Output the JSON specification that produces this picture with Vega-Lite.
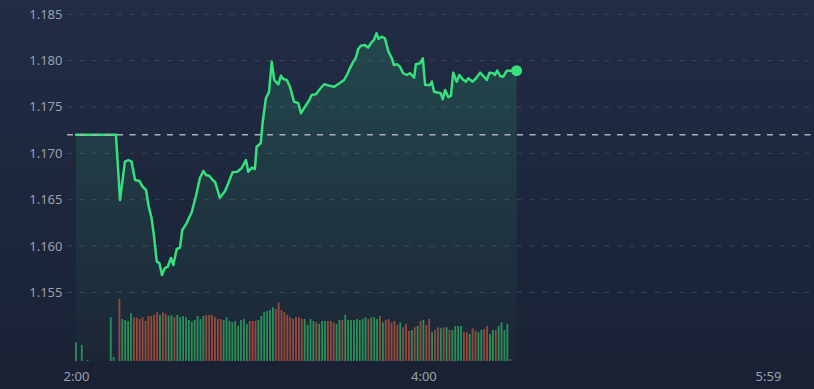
{
  "$schema": "https://vega.github.io/schema/vega-lite/v6.json",
  "width": 814,
  "height": 389,
  "autosize": {"type": "none"},
  "padding": 0,
  "background": "#1a2133",
  "config": {
    "view": {
      "stroke": null,
      "fill": {
        "gradient": "linear",
        "x1": 0, "y1": 0, "x2": 0, "y2": 1,
        "stops": [
          {"offset": 0, "color": "#212c46"},
          {"offset": 1, "color": "#1a2133"}
        ]
      }
    },
    "axis": {
      "labelFont": "Noto Sans",
      "labelFontSize": 13,
      "labelColor": "#9aa1ad",
      "domain": false,
      "ticks": false,
      "grid": false,
      "title": null
    }
  },
  "datasets": {
    "price": [
      {"t": 0, "p": 1.172}, {"t": 13.8, "p": 1.172}, {"t": 15.2, "p": 1.16497}, {"t": 16.9, "p": 1.1691},
      {"t": 18.1, "p": 1.16928}, {"t": 19.2, "p": 1.1691}, {"t": 20.4, "p": 1.16712}, {"t": 21.9, "p": 1.16702},
      {"t": 23.0, "p": 1.1664}, {"t": 24.2, "p": 1.16605}, {"t": 25.0, "p": 1.16443}, {"t": 26.1, "p": 1.16302},
      {"t": 26.9, "p": 1.16119}, {"t": 27.9, "p": 1.15831}, {"t": 28.8, "p": 1.15817}, {"t": 29.7, "p": 1.15688},
      {"t": 30.7, "p": 1.15763}, {"t": 31.7, "p": 1.15777}, {"t": 32.8, "p": 1.15871}, {"t": 33.6, "p": 1.15796},
      {"t": 34.8, "p": 1.15968}, {"t": 35.9, "p": 1.15982}, {"t": 36.7, "p": 1.16173}, {"t": 38.2, "p": 1.16245},
      {"t": 40.0, "p": 1.16367}, {"t": 41.5, "p": 1.16551}, {"t": 42.8, "p": 1.16734}, {"t": 44.0, "p": 1.1681},
      {"t": 44.9, "p": 1.16767}, {"t": 46.0, "p": 1.16759}, {"t": 47.2, "p": 1.16713}, {"t": 48.0, "p": 1.16694},
      {"t": 49.7, "p": 1.16522}, {"t": 51.5, "p": 1.16594}, {"t": 52.6, "p": 1.16677}, {"t": 54.1, "p": 1.16796},
      {"t": 55.7, "p": 1.16802}, {"t": 57.2, "p": 1.16839}, {"t": 58.7, "p": 1.16928}, {"t": 59.5, "p": 1.16802},
      {"t": 60.7, "p": 1.16845}, {"t": 61.8, "p": 1.16831}, {"t": 62.4, "p": 1.17072}, {"t": 63.8, "p": 1.17108},
      {"t": 64.5, "p": 1.17341}, {"t": 65.6, "p": 1.17594}, {"t": 66.7, "p": 1.17665}, {"t": 67.6, "p": 1.17989},
      {"t": 68.5, "p": 1.17791}, {"t": 69.9, "p": 1.17745}, {"t": 70.8, "p": 1.17838}, {"t": 71.6, "p": 1.17802},
      {"t": 72.8, "p": 1.17791}, {"t": 73.9, "p": 1.17719}, {"t": 75.3, "p": 1.17557}, {"t": 76.8, "p": 1.1754},
      {"t": 77.7, "p": 1.17432}, {"t": 79.1, "p": 1.17503}, {"t": 80.6, "p": 1.17575}, {"t": 81.4, "p": 1.17629},
      {"t": 82.9, "p": 1.17637}, {"t": 84.0, "p": 1.17683}, {"t": 85.7, "p": 1.17745}, {"t": 87.5, "p": 1.1773},
      {"t": 89.2, "p": 1.17719}, {"t": 91.0, "p": 1.17756}, {"t": 92.6, "p": 1.17791}, {"t": 93.7, "p": 1.17853},
      {"t": 94.6, "p": 1.17917}, {"t": 95.8, "p": 1.17989}, {"t": 96.6, "p": 1.18025}, {"t": 97.5, "p": 1.18126},
      {"t": 98.4, "p": 1.18161}, {"t": 99.8, "p": 1.18169}, {"t": 100.9, "p": 1.1814}, {"t": 102.1, "p": 1.18198},
      {"t": 102.9, "p": 1.18223}, {"t": 103.8, "p": 1.18295}, {"t": 104.5, "p": 1.18234}, {"t": 105.6, "p": 1.18258},
      {"t": 106.7, "p": 1.18241}, {"t": 107.9, "p": 1.18097}, {"t": 109.1, "p": 1.18025}, {"t": 109.8, "p": 1.17953},
      {"t": 111.0, "p": 1.1796}, {"t": 111.9, "p": 1.17935}, {"t": 113.0, "p": 1.17864}, {"t": 114.2, "p": 1.17845},
      {"t": 115.4, "p": 1.17864}, {"t": 116.8, "p": 1.17816}, {"t": 117.4, "p": 1.17961}, {"t": 118.8, "p": 1.17971},
      {"t": 119.8, "p": 1.18025}, {"t": 120.6, "p": 1.17737}, {"t": 122.3, "p": 1.17737}, {"t": 122.9, "p": 1.17773},
      {"t": 123.7, "p": 1.17665}, {"t": 125.2, "p": 1.17654}, {"t": 126.0, "p": 1.17648}, {"t": 126.7, "p": 1.17583},
      {"t": 127.5, "p": 1.17683}, {"t": 128.6, "p": 1.17605}, {"t": 129.5, "p": 1.17619}, {"t": 130.3, "p": 1.1787},
      {"t": 131.5, "p": 1.17773}, {"t": 132.4, "p": 1.17845}, {"t": 133.6, "p": 1.17799}, {"t": 134.7, "p": 1.17773},
      {"t": 135.5, "p": 1.1781}, {"t": 137.0, "p": 1.17773}, {"t": 138.2, "p": 1.1781}, {"t": 139.6, "p": 1.1787},
      {"t": 140.7, "p": 1.17834}, {"t": 141.9, "p": 1.17791}, {"t": 142.8, "p": 1.1787}, {"t": 144.1, "p": 1.17864},
      {"t": 144.7, "p": 1.17845}, {"t": 145.5, "p": 1.17892}, {"t": 146.5, "p": 1.17834}, {"t": 147.6, "p": 1.17827},
      {"t": 148.8, "p": 1.17892}, {"t": 150.5, "p": 1.17892}, {"t": 152.2, "p": 1.17892}
    ],
    "vol": [
      {"t": 0, "v": 187, "d": "up"}, {"t": 2, "v": 160, "d": "up"}, {"t": 4, "v": 10, "d": "up"},
      {"t": 12, "v": 437, "d": "up"}, {"t": 13, "v": 40, "d": "up"}, {"t": 15, "v": 620, "d": "down"},
      {"t": 16, "v": 420, "d": "up"}, {"t": 17, "v": 410, "d": "up"}, {"t": 18, "v": 400, "d": "up"},
      {"t": 19, "v": 477, "d": "up"}, {"t": 20, "v": 437, "d": "down"}, {"t": 21, "v": 433, "d": "down"},
      {"t": 22, "v": 420, "d": "down"}, {"t": 23, "v": 437, "d": "down"}, {"t": 24, "v": 400, "d": "down"},
      {"t": 25, "v": 450, "d": "down"}, {"t": 26, "v": 450, "d": "down"}, {"t": 27, "v": 460, "d": "down"},
      {"t": 28, "v": 487, "d": "down"}, {"t": 29, "v": 460, "d": "up"}, {"t": 30, "v": 487, "d": "down"},
      {"t": 31, "v": 470, "d": "down"}, {"t": 32, "v": 453, "d": "up"}, {"t": 33, "v": 460, "d": "up"},
      {"t": 34, "v": 437, "d": "down"}, {"t": 35, "v": 460, "d": "up"}, {"t": 36, "v": 437, "d": "up"},
      {"t": 37, "v": 450, "d": "up"}, {"t": 38, "v": 437, "d": "up"}, {"t": 39, "v": 410, "d": "up"},
      {"t": 40, "v": 393, "d": "up"}, {"t": 41, "v": 410, "d": "up"}, {"t": 42, "v": 450, "d": "up"},
      {"t": 43, "v": 420, "d": "up"}, {"t": 44, "v": 450, "d": "up"}, {"t": 45, "v": 460, "d": "down"},
      {"t": 46, "v": 460, "d": "down"}, {"t": 47, "v": 460, "d": "down"}, {"t": 48, "v": 437, "d": "down"},
      {"t": 49, "v": 420, "d": "down"}, {"t": 50, "v": 420, "d": "down"}, {"t": 51, "v": 410, "d": "up"},
      {"t": 52, "v": 437, "d": "up"}, {"t": 53, "v": 400, "d": "up"}, {"t": 54, "v": 387, "d": "up"},
      {"t": 55, "v": 400, "d": "up"}, {"t": 56, "v": 350, "d": "up"}, {"t": 57, "v": 410, "d": "up"},
      {"t": 58, "v": 420, "d": "up"}, {"t": 59, "v": 370, "d": "up"}, {"t": 60, "v": 400, "d": "down"},
      {"t": 61, "v": 400, "d": "down"}, {"t": 62, "v": 400, "d": "down"}, {"t": 63, "v": 410, "d": "up"},
      {"t": 64, "v": 450, "d": "up"}, {"t": 65, "v": 487, "d": "up"}, {"t": 66, "v": 500, "d": "up"},
      {"t": 67, "v": 510, "d": "up"}, {"t": 68, "v": 537, "d": "up"}, {"t": 69, "v": 520, "d": "down"},
      {"t": 70, "v": 587, "d": "down"}, {"t": 71, "v": 510, "d": "down"}, {"t": 72, "v": 487, "d": "down"},
      {"t": 73, "v": 460, "d": "down"}, {"t": 74, "v": 437, "d": "down"}, {"t": 75, "v": 420, "d": "down"},
      {"t": 76, "v": 437, "d": "down"}, {"t": 77, "v": 437, "d": "down"}, {"t": 78, "v": 420, "d": "down"},
      {"t": 79, "v": 420, "d": "up"}, {"t": 80, "v": 360, "d": "up"}, {"t": 81, "v": 420, "d": "up"},
      {"t": 82, "v": 400, "d": "up"}, {"t": 83, "v": 387, "d": "down"}, {"t": 84, "v": 370, "d": "up"},
      {"t": 85, "v": 400, "d": "up"}, {"t": 86, "v": 400, "d": "up"}, {"t": 87, "v": 400, "d": "down"},
      {"t": 88, "v": 400, "d": "down"}, {"t": 89, "v": 387, "d": "down"}, {"t": 90, "v": 370, "d": "up"},
      {"t": 91, "v": 410, "d": "up"}, {"t": 92, "v": 410, "d": "down"}, {"t": 93, "v": 460, "d": "up"},
      {"t": 94, "v": 410, "d": "up"}, {"t": 95, "v": 410, "d": "up"}, {"t": 96, "v": 410, "d": "up"},
      {"t": 97, "v": 420, "d": "up"}, {"t": 98, "v": 410, "d": "up"}, {"t": 99, "v": 420, "d": "up"},
      {"t": 100, "v": 437, "d": "up"}, {"t": 101, "v": 420, "d": "down"}, {"t": 102, "v": 437, "d": "up"},
      {"t": 103, "v": 437, "d": "up"}, {"t": 104, "v": 420, "d": "up"}, {"t": 105, "v": 450, "d": "down"},
      {"t": 106, "v": 387, "d": "up"}, {"t": 107, "v": 410, "d": "down"}, {"t": 108, "v": 420, "d": "down"},
      {"t": 109, "v": 387, "d": "down"}, {"t": 110, "v": 400, "d": "down"}, {"t": 111, "v": 360, "d": "down"},
      {"t": 112, "v": 387, "d": "up"}, {"t": 113, "v": 337, "d": "down"}, {"t": 114, "v": 370, "d": "down"},
      {"t": 115, "v": 300, "d": "down"}, {"t": 116, "v": 310, "d": "up"}, {"t": 117, "v": 337, "d": "down"},
      {"t": 118, "v": 350, "d": "up"}, {"t": 119, "v": 400, "d": "down"}, {"t": 120, "v": 410, "d": "up"},
      {"t": 121, "v": 360, "d": "down"}, {"t": 122, "v": 420, "d": "down"}, {"t": 123, "v": 287, "d": "up"},
      {"t": 124, "v": 310, "d": "down"}, {"t": 125, "v": 337, "d": "down"}, {"t": 126, "v": 327, "d": "up"},
      {"t": 127, "v": 337, "d": "down"}, {"t": 128, "v": 337, "d": "up"}, {"t": 129, "v": 310, "d": "down"},
      {"t": 130, "v": 310, "d": "up"}, {"t": 131, "v": 350, "d": "up"}, {"t": 132, "v": 350, "d": "up"},
      {"t": 133, "v": 350, "d": "up"}, {"t": 134, "v": 287, "d": "down"}, {"t": 135, "v": 287, "d": "down"},
      {"t": 136, "v": 270, "d": "up"}, {"t": 137, "v": 327, "d": "down"}, {"t": 138, "v": 300, "d": "down"},
      {"t": 139, "v": 287, "d": "up"}, {"t": 140, "v": 310, "d": "up"}, {"t": 141, "v": 320, "d": "down"},
      {"t": 142, "v": 350, "d": "down"}, {"t": 143, "v": 270, "d": "up"}, {"t": 144, "v": 310, "d": "up"},
      {"t": 145, "v": 310, "d": "down"}, {"t": 146, "v": 350, "d": "up"}, {"t": 147, "v": 387, "d": "up"},
      {"t": 148, "v": 310, "d": "up"}, {"t": 149, "v": 370, "d": "up"}, {"t": 150, "v": 20, "d": "down"}
    ],
    "grid": [{"p": 1.155}, {"p": 1.16}, {"p": 1.165}, {"p": 1.17}, {"p": 1.175}, {"p": 1.18}, {"p": 1.185}],
    "ref": [{"p": 1.172}]
  },
  "layer": [
    {
      "data": {"name": "vol"},
      "mark": {"type": "bar", "size": 1.8, "opacity": 0.9},
      "encoding": {
        "x": {"field": "t", "type": "quantitative", "scale": {"domain": [-26.25, 254.92], "nice": false, "zero": false, "padding": 0},
              "axis": {"values": [0, 120, 239], "offset": -27, "labelPadding": 8, "labelFlush": false,
                       "labelExpr": "(floor(datum.value/60)+2) + ':' + (datum.value%60 < 10 ? '0' : '') + (datum.value%60)"}},
        "y": {"field": "v", "type": "quantitative", "scale": {"domain": [-280, 3610], "nice": false, "zero": false}, "axis": null},
        "y2": {"datum": 0},
        "color": {"field": "d", "type": "nominal", "scale": {"domain": ["up", "down"], "range": ["#2b9a5a", "#a84a3c"]}, "legend": null}
      }
    },
    {
      "layer": [
        {
          "data": {"name": "grid"},
          "mark": {"type": "rule", "color": "#3a465b", "strokeWidth": 1, "strokeDash": [5, 7.5]},
          "encoding": {
            "y": {"field": "p", "type": "quantitative", "scale": {"domain": [1.14458, 1.18654], "nice": false, "zero": false},
                  "axis": {"values": [1.155, 1.16, 1.165, 1.17, 1.175, 1.18, 1.185], "format": ".3f", "offset": -67, "labelPadding": 5, "labelFlush": false}},
            "x": {"datum": -3.11},
            "x2": {"datum": 254.92}
          }
        },
        {
          "data": {"name": "price"},
          "mark": {
            "type": "area",
            "fill": {
              "gradient": "linear", "x1": 0, "y1": 0, "x2": 0, "y2": 1,
              "stops": [
                {"offset": 0, "color": "rgba(52,220,120,0.16)"},
                {"offset": 1, "color": "rgba(52,220,120,0.02)"}
              ]
            }
          },
          "encoding": {
            "x": {"field": "t", "type": "quantitative"},
            "y": {"field": "p", "type": "quantitative"},
            "y2": {"datum": 1.1476}
          }
        },
        {
          "data": {"name": "price"},
          "mark": {"type": "line", "color": "#36e07b", "strokeWidth": 2.5, "strokeJoin": "round", "strokeCap": "round"},
          "encoding": {
            "x": {"field": "t", "type": "quantitative"},
            "y": {"field": "p", "type": "quantitative"}
          }
        },
        {
          "data": {"name": "ref"},
          "mark": {"type": "rule", "color": "#aab1bc", "strokeWidth": 1.5, "strokeDash": [6, 6.5]},
          "encoding": {
            "y": {"field": "p", "type": "quantitative"},
            "x": {"datum": -3.11},
            "x2": {"datum": 254.92}
          }
        },
        {
          "data": {"name": "price"},
          "transform": [{"filter": "datum.t == 152.2"}],
          "mark": {"type": "point", "shape": "circle", "filled": true, "size": 121, "color": "#36e07b", "opacity": 1},
          "encoding": {
            "x": {"field": "t", "type": "quantitative"},
            "y": {"field": "p", "type": "quantitative"}
          }
        }
      ]
    }
  ],
  "resolve": {"scale": {"y": "independent"}}
}
